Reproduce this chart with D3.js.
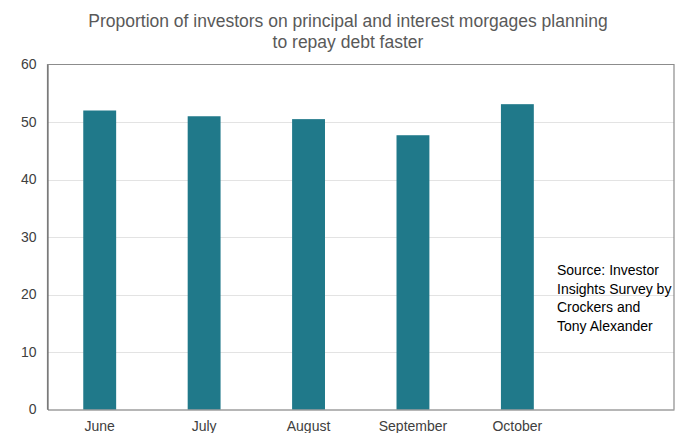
<!DOCTYPE html>
<html>
<head>
<meta charset="utf-8">
<script src="https://cdn.jsdelivr.net/npm/d3@7"></script>
<style>
  html, body { margin: 0; padding: 0; background: #fff; }
  svg { display: block; }
</style>
</head>
<body>
<svg id="chart" width="690" height="433"></svg>
<script>
// Survey months and the share of investors planning to repay faster (%)
const months = ["June", "July", "August", "September", "October"];
const shares = [52.0, 51.0, 50.5, 47.7, 53.1];
// An empty slot after October leaves room for the source note
const slots = [...months, ""];
const yTicks = [0, 10, 20, 30, 40, 50, 60];
const titleLines = [
  "Proportion of investors on principal and interest morgages planning",
  "to repay debt faster"
];
const sourceLines = ["Source: Investor", "Insights Survey by", "Crockers and", "Tony Alexander"];

const svg = d3.select("#chart");
const font = "'Liberation Sans', Arial, sans-serif";
const m = { left: 47.5, right: 674, top: 64.5, bottom: 409.5 };

const x = d3.scaleBand().domain(slots).range([m.left, m.right]).paddingInner(0.685).paddingOuter(0.3425);
const y = d3.scaleLinear().domain([0, 60]).range([m.bottom, m.top]);

// Title
svg.append("g").selectAll("text").data(titleLines).join("text")
  .attr("x", 348).attr("y", (d, i) => 27 + i * 21)
  .attr("text-anchor", "middle")
  .attr("font-family", font).attr("font-size", 17.5)
  .attr("fill", "#595959")
  .text(d => d);

// Gridlines
svg.append("g").selectAll("line").data(yTicks.filter(t => t > 0 && t < 60)).join("line")
  .attr("x1", m.left).attr("x2", m.right)
  .attr("y1", d => Math.round(y(d)) + 0.5).attr("y2", d => Math.round(y(d)) + 0.5)
  .attr("stroke", "#e3e3e3").attr("stroke-width", 1);

// Bars
svg.append("g").selectAll("rect").data(months).join("rect")
  .attr("x", d => x(d))
  .attr("width", x.bandwidth())
  .attr("y", (d, i) => y(shares[i]))
  .attr("height", (d, i) => y(0) - y(shares[i]))
  .attr("fill", "#20798a");

// Plot frame
svg.append("path")
  .attr("d", `M${m.left},${m.bottom}V${m.top}H${m.right}V${m.bottom}`)
  .attr("fill", "none").attr("stroke", "#8c8c8c").attr("stroke-width", 1.2);

// Y axis
const yAxis = svg.append("g")
  .attr("transform", `translate(${m.left},0)`)
  .call(d3.axisLeft(y).tickValues(yTicks).tickSize(0).tickPadding(11));
yAxis.select(".domain").attr("stroke", "#6f6f6f").attr("stroke-width", 1.2);
yAxis.selectAll("text").attr("font-family", font).attr("font-size", 14).attr("fill", "#404040");

// X axis
const xAxis = svg.append("g")
  .attr("transform", `translate(0,${m.bottom})`)
  .call(d3.axisBottom(x).tickSize(0).tickPadding(12));
xAxis.select(".domain").attr("stroke", "#6f6f6f").attr("stroke-width", 1.2);
xAxis.selectAll("text").attr("font-family", font).attr("font-size", 14).attr("fill", "#404040");

// Source note
svg.append("g").selectAll("text").data(sourceLines).join("text")
  .attr("x", 557).attr("y", (d, i) => 275 + i * 18.7)
  .attr("font-family", font).attr("font-size", 14)
  .attr("fill", "#000")
  .text(d => d);
</script>
</body>
</html>
